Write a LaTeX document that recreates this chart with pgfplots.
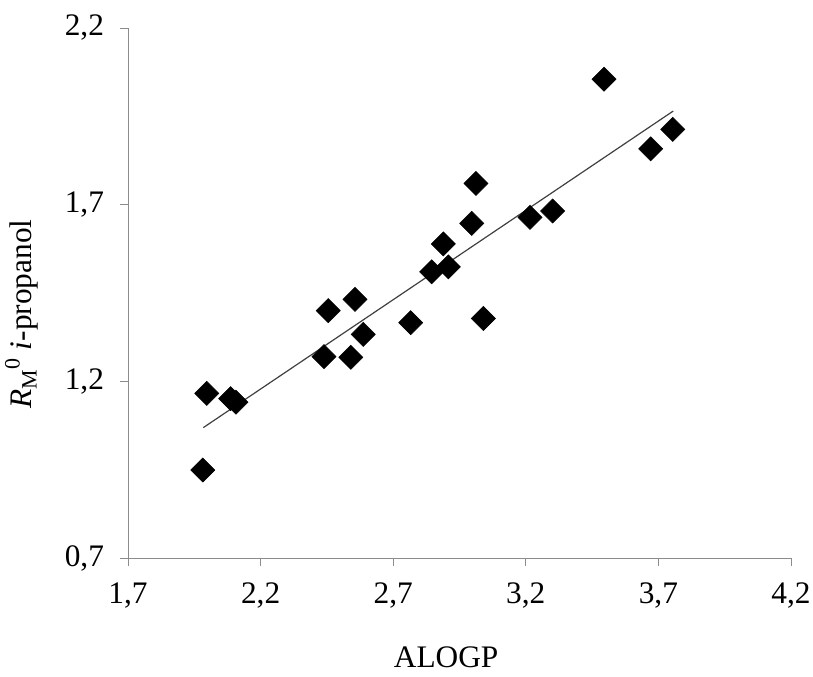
\documentclass[border=0pt]{standalone}
\usepackage{fontspec}
\setmainfont{Liberation Serif}
\usepackage{pgfplots}
\pgfplotsset{compat=1.18}
\begin{document}
\begin{tikzpicture}
\begin{axis}[
  scale only axis,
  width=497.25pt, height=397.5pt,
  xmin=1.7, xmax=4.2, ymin=0.7, ymax=2.2,
  xtick={1.7,2.2,2.7,3.2,3.7,4.2},
  ytick={0.7,1.2,1.7,2.2},
  axis lines=left,
  axis line style={-, draw=gray!90},
  tick style={draw=gray!90, line width=0.6pt},
  major tick length=6pt,
  tick align=outside,
  every tick label/.append style={font=\fontsize{23.5}{28}\selectfont, text=black},
  /pgf/number format/.cd, use comma, fixed, fixed zerofill, precision=1, assume math mode=true,
  /pgfplots/.cd,
  xticklabel style={yshift=-9pt},
  yticklabel style={xshift=-8.5pt},
  label style={font=\fontsize{23.5}{28}\selectfont},
  xlabel={ALOGP},
  ylabel={\textit{R}\textsubscript{M}\textsuperscript{0} \textit{i}-propanol},
  xlabel style={yshift=-22pt, xshift=-10pt},
  ylabel style={at={(ticklabel cs:0.46)}, yshift=13pt},
  clip=false,
]
\addplot[draw=black!75, line width=0.9pt] coordinates {(1.984,1.069) (3.756,1.965)};
\addplot[only marks, mark=square*, mark size=6.4pt, mark options={rotate=45, fill=black, draw=black}] coordinates {
(3.495,2.055)
(3.754,1.913)
(3.671,1.858)
(3.012,1.760)
(2.996,1.647)
(3.216,1.664)
(3.301,1.682)
(2.889,1.589)
(2.845,1.510)
(2.908,1.524)
(2.556,1.432)
(2.455,1.400)
(2.766,1.366)
(3.040,1.378)
(2.587,1.333)
(2.439,1.270)
(2.540,1.268)
(1.997,1.166)
(2.087,1.151)
(2.107,1.141)
(1.982,0.949)
};
\coordinate (bl) at (rel axis cs:0,0);
\coordinate (tr) at (rel axis cs:1,1);
\end{axis}
\pgfresetboundingbox
\path[use as bounding box] ([xshift=-96pt,yshift=-89.25pt]bl) rectangle ([xshift=16.5pt,yshift=21pt]tr);
\end{tikzpicture}
\end{document}
